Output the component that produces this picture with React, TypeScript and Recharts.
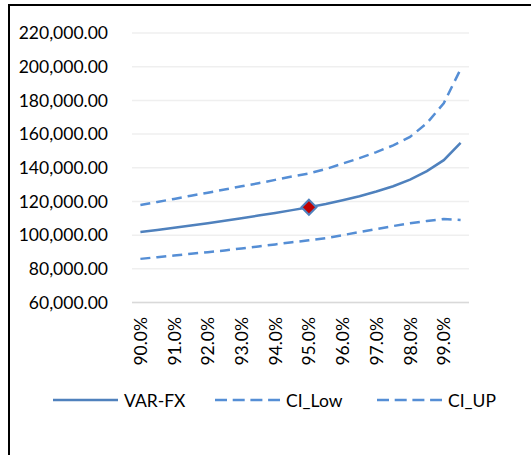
import React from 'react'
import { LineChart, Line, XAxis, YAxis, CartesianGrid } from 'recharts'

const categories = [
  '90.0%', '90.5%', '91.0%', '91.5%', '92.0%', '92.5%', '93.0%', '93.5%', '94.0%', '94.5%',
  '95.0%', '95.5%', '96.0%', '96.5%', '97.0%', '97.5%', '98.0%', '98.5%', '99.0%', '99.5%',
]
const varFx = [
  101800, 103050, 104350, 105700, 107100, 108550, 110050, 111600, 113200, 114850,
  116550, 118500, 120700, 123100, 125900, 129000, 133000, 138000, 144500, 154800,
]
const ciLow = [
  85900, 86900, 87900, 88900, 89900, 90900, 92100, 93300, 94500, 95800,
  96900, 98200, 100000, 101800, 103600, 105400, 107100, 108400, 109600, 109000,
]
const ciUp = [
  117900, 119700, 121500, 123400, 125200, 127100, 129000, 130800, 132800, 134800,
  136600, 139200, 142500, 145700, 149300, 153300, 158300, 166500, 178300, 198500,
]
const yTicks = [60000, 80000, 100000, 120000, 140000, 160000, 180000, 200000, 220000]
const highlight = '95.0%'

const legendItems = [
  { name: 'VAR-FX', dash: undefined as string | undefined },
  { name: 'CI_Low', dash: '12 5.7' },
  { name: 'CI_UP', dash: '12 5.7' },
]

const data = categories.map((c, i) => ({
  level: c,
  'VAR-FX': varFx[i],
  CI_Low: ciLow[i],
  CI_UP: ciUp[i],
}))

const FONT = 'Lato, "Open Sans", sans-serif'
const SOLID = '#4f81bd'
const DASHED = '#558ed5'

const fmt = (v: number) =>
  v.toLocaleString('en-US', { minimumFractionDigits: 2, maximumFractionDigits: 2 })

function XTick(props: any) {
  const { x, y, payload } = props
  const ty = y + 14.5
  return (
    <text
      x={x}
      y={ty}
      transform={`rotate(-90, ${x}, ${ty})`}
      textAnchor="end"
      dominantBaseline="central"
      fontFamily={FONT}
      fontSize={17.5}
      fill="#000"
    >
      {payload.value}
    </text>
  )
}

function Marker(props: any) {
  const { cx, cy, payload, index } = props
  if (payload.level !== highlight) return <g key={index} />
  const r = 7.5
  return (
    <polygon
      key={index}
      points={`${cx},${cy - r} ${cx + r},${cy} ${cx},${cy + r} ${cx - r},${cy}`}
      fill="#c00000"
      stroke={SOLID}
      strokeWidth={2}
    />
  )
}

export default function App() {
  return (
    <div style={{ position: 'absolute', left: 0, top: 0, width: 531, height: 455 }}>
      <div
        style={{
          position: 'absolute',
          left: 8,
          top: 4,
          width: 523,
          height: 451,
          borderTop: '2px solid #000',
          borderLeft: '2px solid #000',
          boxSizing: 'border-box',
        }}
      />
      <LineChart
        width={531}
        height={455}
        data={data}
        margin={{ top: 33, right: 62, bottom: 92.5, left: 0 }}
        style={{ position: 'absolute', left: 0, top: 0 }}
      >
        <CartesianGrid vertical={false} stroke="#efefef" strokeWidth={1.5} />
        <XAxis
          dataKey="level"
          interval={1}
          tickLine={false}
          tickSize={0}
          tickMargin={0}
          height={60}
          padding={{ left: 8.4, right: 8.4 }}
          axisLine={{ stroke: '#d9d9d9', strokeWidth: 1.5 }}
          tick={<XTick />}
        />
        <YAxis
          domain={[60000, 220000]}
          ticks={yTicks}
          width={132}
          axisLine={false}
          tickLine={false}
          tickSize={0}
          tickMargin={24}
          tickFormatter={fmt}
          tick={{ fontFamily: FONT, fontSize: 17.5, fill: '#000' }}
        />
        <Line dataKey="CI_Low" stroke={DASHED} strokeWidth={2.5} strokeDasharray="10 6" dot={false} isAnimationActive={false} />
        <Line dataKey="CI_UP" stroke={DASHED} strokeWidth={2.5} strokeDasharray="10 6" dot={false} isAnimationActive={false} />
        <Line dataKey="VAR-FX" stroke={SOLID} strokeWidth={2.5} dot={<Marker />} activeDot={false} isAnimationActive={false} />
      </LineChart>
      <div
        style={{
          position: 'absolute',
          left: 53,
          top: 388,
          display: 'flex',
          fontFamily: FONT,
          fontSize: 17.5,
          color: '#000',
        }}
      >
        {legendItems.map((it) => (
          <div key={it.name} style={{ width: 162, display: 'flex', alignItems: 'center' }}>
            <svg width={65} height={24} style={{ marginRight: 6 }}>
              <line
                x1={0}
                x2={65}
                y1={12}
                y2={12}
                stroke={it.dash ? DASHED : SOLID}
                strokeWidth={2.5}
                strokeDasharray={it.dash}
              />
            </svg>
            <span>{it.name}</span>
          </div>
        ))}
      </div>
    </div>
  )
}
